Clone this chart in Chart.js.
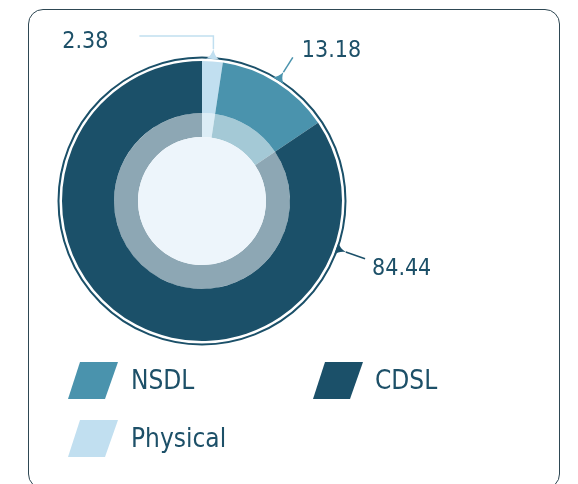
<!DOCTYPE html>
<html>
<head>
<meta charset="utf-8">
<script src="https://cdn.jsdelivr.net/npm/chart.js@4/dist/chart.umd.min.js"></script>
<style>
  html, body { margin: 0; padding: 0; background: #ffffff; }
  body { width: 578px; height: 484px; position: relative; overflow: hidden;
         font-family: "DejaVu Sans Condensed", "DejaVu Sans", sans-serif; }
  #box { position: absolute; left: 28px; top: 9px; width: 532px; height: 480px;
         border: 1.7px solid #2e4753; border-radius: 15px; background: #fff; box-sizing: border-box; }
  #wrap { position: absolute; left: 0; top: 0; width: 578px; height: 484px; }
  .lg-sw { position: absolute; width: 50px; height: 37px;
           clip-path: polygon(12px 0, 50px 0, 37px 37px, 0 37px); }
  .lg-tx { position: absolute; font-size: 26px; line-height: 26px; color: #1d5068; white-space: nowrap; }
</style>
</head>
<body>
<div id="box"></div>
<div id="wrap"><canvas id="c" width="578" height="484"></canvas></div>
<div id="legend"></div>
<script>
// ---- data ----
const categories = ['Physical', 'NSDL', 'CDSL'];
const shares = [2.38, 13.18, 84.44];
const valueLabels = ['2.38', '13.18', '84.44'];
const legendOrder = ['NSDL', 'CDSL', 'Physical'];

// ---- styles ----
const outerColors = ['#c1dff0', '#4a93ad', '#1b5069'];
const innerColors = ['#dcedf6', '#a4c9d6', '#8da7b4'];
const centerColor = '#edf5fb';
const textColor = '#1d5068';
const FONT = '"DejaVu Sans Condensed", "DejaVu Sans", sans-serif';

// leader layout per slice (same order as categories)
const leaderLayout = [
  { frac: 0.5, mode: 'elbow', elbowR: 165, run: 74, gap: 31, base: 12 },
  { frac: 0.5, mode: 'radial', endR: 170, gap: 9, base: 0 },
  { frac: 0.176, mode: 'radial', endR: 173, gap: 7, base: 16 }
];

const decorPlugin = {
  id: 'decor',
  afterDatasetsDraw(chart) {
    const ctx = chart.ctx;
    const meta = chart.getDatasetMeta(0);
    const a0 = meta.data[0];
    const cx = a0.x, cy = a0.y, R = a0.outerRadius;
    const innerR = chart.getDatasetMeta(1).data[0].innerRadius;
    ctx.save();
    // center disc
    ctx.fillStyle = centerColor;
    ctx.beginPath(); ctx.arc(cx, cy, innerR, 0, Math.PI * 2); ctx.fill();
    // outer outline ring
    const rO = R + 3.5;
    ctx.strokeStyle = outerColors[2];
    ctx.lineWidth = 2;
    ctx.beginPath(); ctx.arc(cx, cy, rO, 0, Math.PI * 2); ctx.stroke();
    // leaders + labels
    ctx.font = '23px ' + FONT;
    ctx.textBaseline = 'alphabetic';
    meta.data.forEach((a, i) => {
      const L = leaderLayout[i];
      const col = outerColors[i];
      const ang = a.startAngle + L.frac * (a.endAngle - a.startAngle);
      const ux = Math.cos(ang), uy = Math.sin(ang);
      const tx = -uy, ty = ux;
      const tipR = rO + 9, hw = 6.5, baseR = rO - 1;
      ctx.fillStyle = col;
      ctx.beginPath();
      ctx.moveTo(cx + ux * baseR + tx * hw, cy + uy * baseR + ty * hw);
      ctx.quadraticCurveTo(cx + ux * (rO + 2) + tx * 1.5, cy + uy * (rO + 2) + ty * 1.5, cx + ux * tipR, cy + uy * tipR);
      ctx.quadraticCurveTo(cx + ux * (rO + 2) - tx * 1.5, cy + uy * (rO + 2) - ty * 1.5, cx + ux * baseR - tx * hw, cy + uy * baseR - ty * hw);
      ctx.closePath();
      ctx.fill();
      ctx.strokeStyle = col;
      ctx.lineWidth = 1.5;
      const sx = cx + ux * tipR, sy = cy + uy * tipR;
      ctx.beginPath();
      ctx.moveTo(sx, sy);
      let ex, ey;
      if (L.mode === 'elbow') {
        const ey1 = cy - L.elbowR;
        ctx.lineTo(sx, ey1);
        ex = sx - L.run; ey = ey1;
        ctx.lineTo(ex, ey);
        ctx.stroke();
        ctx.fillStyle = textColor;
        ctx.textAlign = 'right';
        ctx.fillText(valueLabels[i], ex - L.gap, ey + L.base);
      } else {
        ex = cx + ux * L.endR; ey = cy + uy * L.endR;
        ctx.lineTo(ex, ey);
        ctx.stroke();
        ctx.fillStyle = textColor;
        ctx.textAlign = 'left';
        ctx.fillText(valueLabels[i], ex + L.gap, ey + L.base);
      }
    });
    ctx.restore();
  }
};

new Chart(document.getElementById('c'), {
  type: 'doughnut',
  data: {
    labels: categories,
    datasets: [
      { data: shares, backgroundColor: outerColors, borderWidth: 0, weight: 52 },
      { data: shares, backgroundColor: innerColors, borderWidth: 0, weight: 24 }
    ]
  },
  options: {
    responsive: false,
    animation: false,
    events: [],
    cutout: 64,
    layout: { padding: { left: 62, right: 236, top: 61, bottom: 143 } },
    plugins: { legend: { display: false }, tooltip: { enabled: false } }
  },
  plugins: [decorPlugin]
});

// ---- HTML legend ----
const legendSlots = [
  { sx: 68, sy: 362, tx: 131, ty: 367 },
  { sx: 313, sy: 362, tx: 375, ty: 367 },
  { sx: 68, sy: 420, tx: 131, ty: 425 }
];
const lg = document.getElementById('legend');
legendOrder.forEach((name, k) => {
  const idx = categories.indexOf(name);
  const s = legendSlots[k];
  const sw = document.createElement('div');
  sw.className = 'lg-sw';
  sw.style.left = s.sx + 'px'; sw.style.top = s.sy + 'px';
  sw.style.background = outerColors[idx];
  const tx = document.createElement('div');
  tx.className = 'lg-tx';
  tx.style.left = s.tx + 'px'; tx.style.top = s.ty + 'px';
  tx.textContent = name;
  lg.appendChild(sw); lg.appendChild(tx);
});
</script>
</body>
</html>
